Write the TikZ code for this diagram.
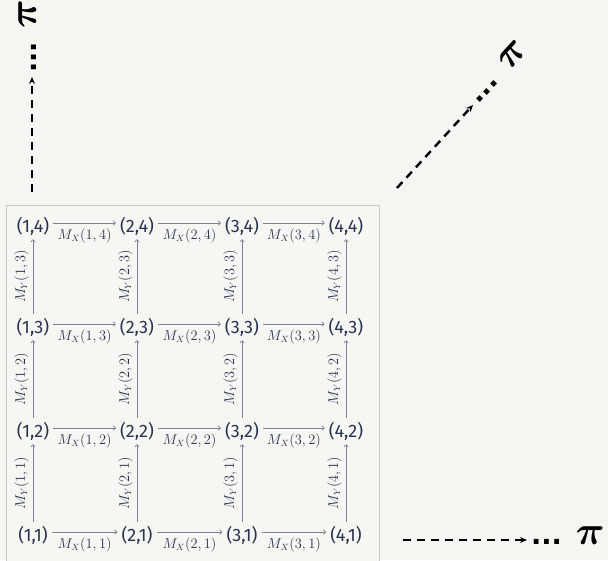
\documentclass[tikz,border=0pt]{standalone}
\usepackage{amsmath}
\usepackage{fontspec}
\setsansfont{Fira Sans}
\newfontfamily\dotfont{DejaVu Sans}
\usetikzlibrary{arrows.meta}
\definecolor{pagebg}{HTML}{F5F5F1}
\definecolor{panelbg}{HTML}{F6F6F3}
\definecolor{panelrule}{HTML}{C8C8C4}
\definecolor{inkblue}{HTML}{2B3350}
\definecolor{mapgray}{HTML}{7A8095}
\newcommand{\limitpi}{{\dotfont\bfseries\fontsize{27}{27}\selectfont...}\hspace{14pt}\scalebox{4}{$\boldsymbol{\pi}$}}

\begin{document}
\begin{tikzpicture}[x=1pt,y=1pt,line join=round,
  cell/.style={font=\sffamily\fontsize{18}{20}\selectfont,text=inkblue,inner sep=2pt},
  map/.style={-{To[length=3pt,width=5pt]},draw=mapgray,line width=0.7pt,shorten >=2pt,shorten <=2pt},
  xlabel/.style={font=\fontsize{13.5}{15}\selectfont,text=inkblue,inner sep=1pt,below=4pt},
  ylabel/.style={font=\fontsize{13.5}{15}\selectfont,text=inkblue,inner sep=1pt,rotate=90,anchor=south,yshift=3pt},
  limit/.style={-{Stealth[length=7pt,width=6pt]},line width=2.4pt,dash pattern=on 8pt off 6pt},
  pilabel/.style={anchor=base west,inner xsep=3pt,inner ysep=0pt}]
\useasboundingbox (0,0) rectangle (608,560);
\fill[pagebg] (0,0) rectangle (608,560);
\draw[panelrule,fill=panelbg,line width=0.8pt] (6,-10) rectangle (379,355);
% grid of pairs
\node[cell] (n14) at (33,334) {(1,4)};
\node[cell] (n24) at (137,334) {(2,4)};
\node[cell] (n34) at (242,334) {(3,4)};
\node[cell] (n44) at (346,334) {(4,4)};
\node[cell] (n13) at (33,233) {(1,3)};
\node[cell] (n23) at (137,233) {(2,3)};
\node[cell] (n33) at (242,233) {(3,3)};
\node[cell] (n43) at (346,233) {(4,3)};
\node[cell] (n12) at (33,129) {(1,2)};
\node[cell] (n22) at (137,129) {(2,2)};
\node[cell] (n32) at (242,129) {(3,2)};
\node[cell] (n42) at (346,129) {(4,2)};
\node[cell] (n11) at (33,25) {(1,1)};
\node[cell] (n21) at (137,25) {(2,1)};
\node[cell] (n31) at (242,25) {(3,1)};
\node[cell] (n41) at (346,25) {(4,1)};
% horizontal maps
\draw[map] ([yshift=3pt]n14.east) -- node[xlabel] {$M_X(1,4)$} ([yshift=3pt]n24.west);
\draw[map] ([yshift=3pt]n24.east) -- node[xlabel] {$M_X(2,4)$} ([yshift=3pt]n34.west);
\draw[map] ([yshift=3pt]n34.east) -- node[xlabel] {$M_X(3,4)$} ([yshift=3pt]n44.west);
\draw[map] ([yshift=3pt]n13.east) -- node[xlabel] {$M_X(1,3)$} ([yshift=3pt]n23.west);
\draw[map] ([yshift=3pt]n23.east) -- node[xlabel] {$M_X(2,3)$} ([yshift=3pt]n33.west);
\draw[map] ([yshift=3pt]n33.east) -- node[xlabel] {$M_X(3,3)$} ([yshift=3pt]n43.west);
\draw[map] ([yshift=3pt]n12.east) -- node[xlabel] {$M_X(1,2)$} ([yshift=3pt]n22.west);
\draw[map] ([yshift=3pt]n22.east) -- node[xlabel] {$M_X(2,2)$} ([yshift=3pt]n32.west);
\draw[map] ([yshift=3pt]n32.east) -- node[xlabel] {$M_X(3,2)$} ([yshift=3pt]n42.west);
\draw[map] ([yshift=3pt]n11.east) -- node[xlabel] {$M_X(1,1)$} ([yshift=3pt]n21.west);
\draw[map] ([yshift=3pt]n21.east) -- node[xlabel] {$M_X(2,1)$} ([yshift=3pt]n31.west);
\draw[map] ([yshift=3pt]n31.east) -- node[xlabel] {$M_X(3,1)$} ([yshift=3pt]n41.west);
% vertical maps
\draw[map] (n13) -- node[ylabel] {$M_Y(1,3)$} (n14);
\draw[map] (n23) -- node[ylabel] {$M_Y(2,3)$} (n24);
\draw[map] (n33) -- node[ylabel] {$M_Y(3,3)$} (n34);
\draw[map] (n43) -- node[ylabel] {$M_Y(4,3)$} (n44);
\draw[map] (n12) -- node[ylabel] {$M_Y(1,2)$} (n13);
\draw[map] (n22) -- node[ylabel] {$M_Y(2,2)$} (n23);
\draw[map] (n32) -- node[ylabel] {$M_Y(3,2)$} (n33);
\draw[map] (n42) -- node[ylabel] {$M_Y(4,2)$} (n43);
\draw[map] (n11) -- node[ylabel] {$M_Y(1,1)$} (n12);
\draw[map] (n21) -- node[ylabel] {$M_Y(2,1)$} (n22);
\draw[map] (n31) -- node[ylabel] {$M_Y(3,1)$} (n32);
\draw[map] (n41) -- node[ylabel] {$M_Y(4,1)$} (n42);
% limits
\coordinate (up0) at (32,368);
\coordinate (up1) at (32,483);
\coordinate (rt0) at (403,20);
\coordinate (rt1) at (527,20);
\coordinate (dg0) at (397,372);
\coordinate (dg1) at (473,455);
\draw[limit] (up0) -- (up1) node[pilabel,rotate=90,yshift=-4pt] {\limitpi};
\draw[limit] (rt0) -- (rt1) node[pilabel,yshift=-4pt] {\limitpi};
\draw[limit] (dg0) -- (dg1) node[pilabel,rotate=47.5,yshift=-4pt] {\limitpi};
\end{tikzpicture}
\end{document}
